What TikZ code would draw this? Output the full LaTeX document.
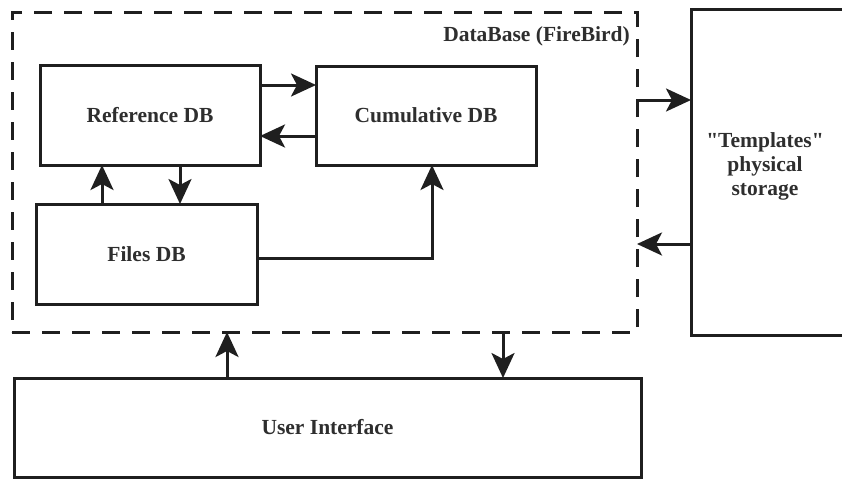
\documentclass[tikz,border=0pt]{standalone}
\usepackage{fontspec}
\setmainfont{Liberation Serif}
\newfontfamily\qfont{Liberation Serif}
\usetikzlibrary{arrows.meta}
\begin{document}
\begin{tikzpicture}[x=1pt,y=-1pt,
  box/.style={draw=black!88,line width=3pt,rectangle,inner sep=0pt,outer sep=0pt,
     font=\fontsize{21.5}{24}\selectfont\bfseries,text=black!82,align=center},
  dbbox/.style={draw=black!88,line width=3pt,dash pattern=on 18pt off 12pt,rectangle,inner sep=0pt,outer sep=0pt},
  arr/.style={draw=black!88,line width=3pt,-{Stealth[length=25pt,width=23pt,inset=6pt]}},
  lbl/.style={font=\fontsize{21.5}{24}\selectfont\bfseries,text=black!82,inner sep=0pt}]
\useasboundingbox (0,0) rectangle (842,479);
\node[dbbox,minimum width=625pt,minimum height=320pt] (db) at (324.5,172) {};
\node[lbl,anchor=east] (dblbl) at (630,36) {DataBase (FireBird)};
\node[box,minimum width=220pt,minimum height=100pt] (ref) at (150,115) {Reference DB};
\node[box,minimum width=220pt,minimum height=99pt] (cum) at (426,115.5) {Cumulative DB};
\node[box,minimum width=221pt,minimum height=100pt] (files) at (146.5,254) {Files DB};
\node[box,minimum width=300pt,minimum height=326pt] (tpl) at (841,172) {};
\node[lbl,align=center] (tpltxt) at (765,166) {{\qfont\bfseries "}Templates{\qfont\bfseries "}\\physical\\storage};
\node[box,minimum width=627pt,minimum height=99pt] (ui) at (327.5,427.5) {User Interface};
% helper coordinates
\coordinate (y85) at (0,85);
\coordinate (y136) at (0,136);
\coordinate (x102) at (102,0);
\coordinate (x180) at (180,0);
\coordinate (y258) at (0,258);
\coordinate (x432) at (432,0);
\coordinate (y100) at (0,100);
\coordinate (y244) at (0,244);
\coordinate (x227) at (227,0);
\coordinate (x503) at (503,0);
% arrows
\draw[arr] (ref.east |- y85) -- (cum.west |- y85);
\draw[arr] (cum.west |- y136) -- (ref.east |- y136);
\draw[arr] (files.north -| x102) -- (ref.south -| x102);
\draw[arr] (ref.south -| x180) -- (files.north -| x180);
\draw[arr] (files.east |- y258) -| (cum.south -| x432);
\draw[arr] (db.east |- y100) -- (tpl.west |- y100);
\draw[arr] (tpl.west |- y244) -- (db.east |- y244);
\draw[arr] (ui.north -| x227) -- (db.south -| x227);
\draw[arr] (db.south -| x503) -- (ui.north -| x503);
\end{tikzpicture}
\end{document}
